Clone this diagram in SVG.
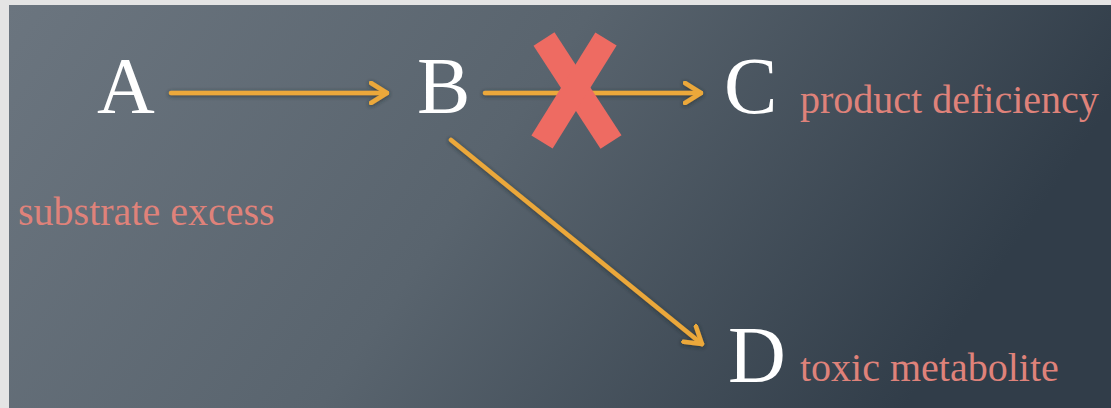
<svg xmlns="http://www.w3.org/2000/svg" width="1111" height="408" viewBox="0 0 1111 408">
  <defs>
    <linearGradient id="bg" x1="0" y1="0" x2="1" y2="0.25">
      <stop offset="0" stop-color="#6b757f"/>
      <stop offset="0.5" stop-color="#59646e"/>
      <stop offset="1" stop-color="#313d49"/>
    </linearGradient>
    <filter id="glow" x="-20%" y="-20%" width="140%" height="140%">
      <feDropShadow dx="0" dy="1" stdDeviation="2" flood-color="#1e252c" flood-opacity="0.7"/>
    </filter>
    <marker id="head" viewBox="0 0 20 24" refX="18" refY="12" markerWidth="20" markerHeight="24" markerUnits="userSpaceOnUse" orient="auto">
      <polyline points="2,2 18,12 2,22" fill="none" stroke="#eba83a" stroke-width="4.5" stroke-linecap="round" stroke-linejoin="round"/>
    </marker>
    <style>
      .node { font-family: "Liberation Serif", "Times New Roman", serif; font-size: 80px; fill: #ffffff; }
      .note { font-family: "Liberation Serif", "Times New Roman", serif; font-size: 40px; fill: #df827a; }
      .conn { stroke: #eba83a; stroke-width: 4.5; fill: none; stroke-linecap: round; marker-end: url(#head); }
      .cross { stroke: #ee6b62; stroke-width: 25; stroke-linecap: butt; }
    </style>
  </defs>
  <rect x="0" y="0" width="1111" height="408" fill="#e4e4e4"/>
  <rect x="9" y="5" width="1102" height="403" fill="url(#bg)"/>

  <g id="connectors" filter="url(#glow)">
    <line class="conn" x1="171" y1="93" x2="387" y2="93"/>
    <line class="conn" x1="485" y1="93" x2="701" y2="93"/>
    <line class="conn" x1="451" y1="140" x2="702" y2="344"/>
  </g>

  <g id="block-x">
    <line class="cross" x1="544" y1="39" x2="611" y2="142"/>
    <line class="cross" x1="606" y1="39" x2="542" y2="142"/>
  </g>

  <g id="node-A"><text class="node" x="97" y="113">A</text></g>
  <g id="node-B"><text class="node" x="417" y="113">B</text></g>
  <g id="node-C"><text class="node" x="724" y="113">C</text></g>
  <g id="node-D"><text class="node" x="728" y="382">D</text></g>

  <g id="label-substrate"><text class="note" x="18" y="225">substrate excess</text></g>
  <g id="label-product"><text class="note" x="800" y="113">product deficiency</text></g>
  <g id="label-toxic"><text class="note" x="800" y="381">toxic metabolite</text></g>
</svg>
